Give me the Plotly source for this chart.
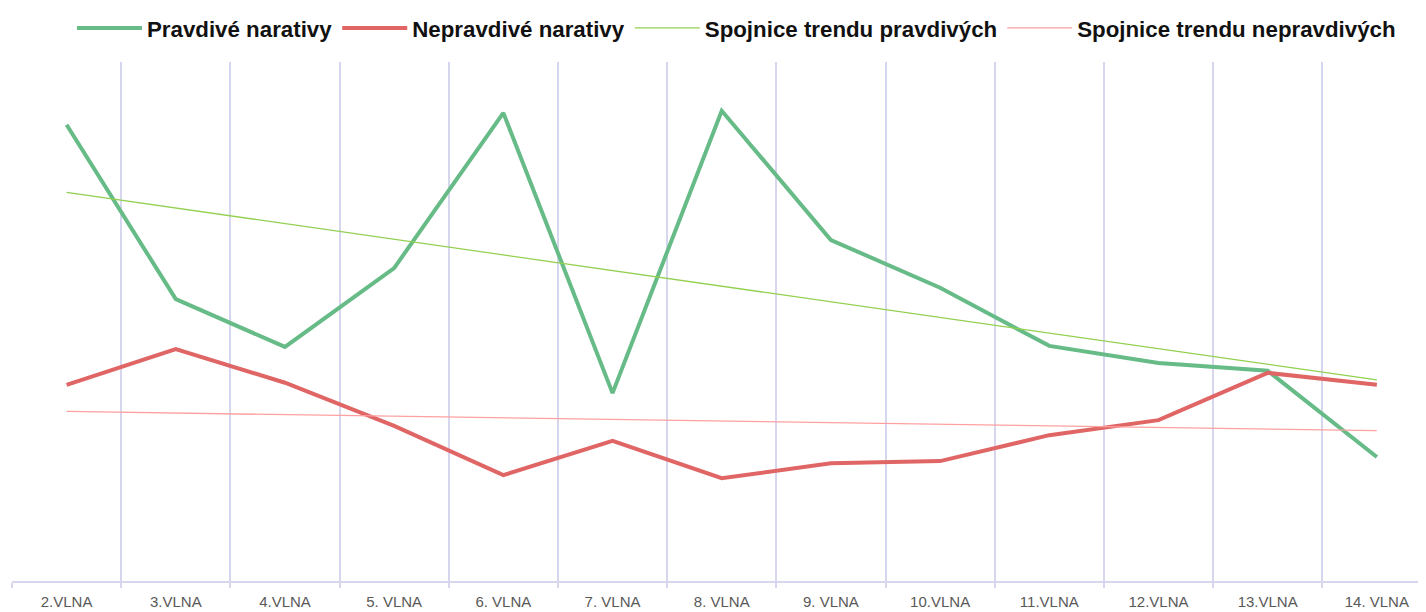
import numpy as np
import plotly.graph_objects as go

categories = ["2.VLNA", "3.VLNA", "4.VLNA", "5. VLNA", "6. VLNA", "7. VLNA", "8. VLNA",
              "9. VLNA", "10.VLNA", "11.VLNA", "12.VLNA", "13.VLNA", "14. VLNA"]
pravdive = [87.9, 54.3, 45.1, 60.3, 90.2, 36.2, 90.6, 65.7, 56.5, 45.3, 42.0, 40.5, 23.9]
nepravdive = [37.8, 44.7, 38.2, 29.9, 20.4, 27.0, 19.8, 22.7, 23.1, 28.1, 31.0, 40.1, 37.8]

idx = np.arange(len(categories))
tp = np.polyval(np.polyfit(idx, pravdive, 1), idx)
tn = np.polyval(np.polyfit(idx, nepravdive, 1), idx)

fig = go.Figure()
fig.add_trace(go.Scatter(x=categories, y=pravdive, mode="lines", name="Pravdivé narativy",
                         line=dict(color="#66BB87", width=4)))
fig.add_trace(go.Scatter(x=categories, y=nepravdive, mode="lines", name="Nepravdivé narativy",
                         line=dict(color="#E06666", width=4)))
fig.add_trace(go.Scatter(x=categories, y=tp, mode="lines", name="Spojnice trendu pravdivých",
                         line=dict(color="#92D050", width=1.3)))
fig.add_trace(go.Scatter(x=categories, y=tn, mode="lines", name="Spojnice trendu nepravdivých",
                         line=dict(color="#FFA0A0", width=1.3)))

fig.update_layout(
    width=1418, height=604,
    margin=dict(l=4, r=0, t=54, b=31, autoexpand=False),
    paper_bgcolor="white", plot_bgcolor="white",
    showlegend=True,
    legend=dict(orientation="h", x=0.0424, xanchor="left", yref="container", y=0.967,
                yanchor="middle", font=dict(family="Liberation Sans, Arial", size=22.3,
                                            color="#111111", weight="bold"),
                itemwidth=65, bgcolor="rgba(0,0,0,0)"),
    xaxis=dict(type="category", range=[-0.5, 12.45], tickson="boundaries",
               showgrid=True, gridcolor="#D6D6EE", gridwidth=2,
               showline=True, linecolor="#D6D6EE", linewidth=2,
               ticks="outside", ticklen=5, tickcolor="#D6D6EE", tickwidth=2,
               ticklabelstandoff=6, automargin=False,
               tickfont=dict(family="Liberation Sans, Arial", size=15, color="#595959"),
               fixedrange=True),
    yaxis=dict(range=[0, 100], showgrid=False, zeroline=False, showticklabels=False,
               showline=False, ticks="", automargin=False),
)

fig.write_html("out.html")
